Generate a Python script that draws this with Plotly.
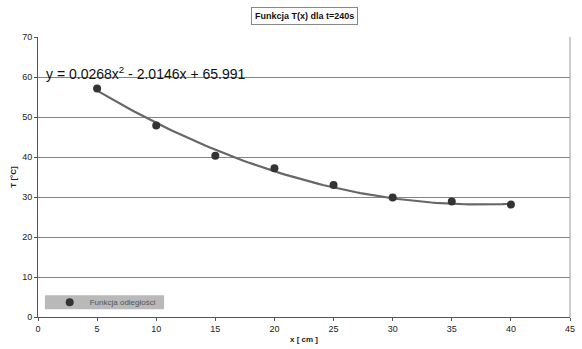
import numpy as np
import plotly.graph_objects as go

# Data
x_cm = [5, 10, 15, 20, 25, 30, 35, 40]
temp_c = [57.1, 47.9, 40.3, 37.2, 33.0, 29.9, 28.9, 28.1]

# Trendline coefficients shown on the chart (2nd order polynomial)
coef_a, coef_b, coef_c = 0.0268, -2.0146, 65.991

x_ticks = [0, 5, 10, 15, 20, 25, 30, 35, 40, 45]
y_ticks = [0, 10, 20, 30, 40, 50, 60, 70]

xs = np.linspace(min(x_cm), max(x_cm), 100)
ys = coef_a * xs**2 + coef_b * xs + coef_c

fig = go.Figure()
fig.add_trace(go.Scatter(
    x=xs, y=ys, mode="lines", showlegend=False,
    line=dict(color="#676767", width=2.2), hoverinfo="skip"))
fig.add_trace(go.Scatter(
    x=x_cm, y=temp_c, mode="markers", name="Funkcja odległości",
    marker=dict(color="#333333", size=8)))

fig.add_annotation(
    text="<b>Funkcja T(x) dla t=240s</b>", xref="paper", yref="paper",
    x=0.5, y=1.0, yshift=21, xanchor="center", yanchor="middle",
    showarrow=False, font=dict(family="Liberation Sans, Arial", size=9, color="#111"),
    bordercolor="#888", borderwidth=1, borderpad=3, bgcolor="white")

fig.add_annotation(
    text=f"y = {coef_a}x<sup>2</sup> - {abs(coef_b)}x + {coef_c}",
    xref="paper", yref="paper", x=0.012, y=0.87, xanchor="left", yanchor="middle",
    showarrow=False, font=dict(family="Liberation Sans, Arial", size=14, color="#111"))

# legend background box
fig.add_shape(type="rect", xref="paper", yref="paper",
              x0=0.013, x1=0.237, y0=0.028, y1=0.078,
              fillcolor="#b9b9b9", line=dict(width=0), layer="below")

fig.update_layout(
    width=582, height=349,
    margin=dict(l=38, r=7, t=37, b=30),
    paper_bgcolor="white", plot_bgcolor="white",
    font=dict(family="Liberation Sans, Arial", size=9, color="#222"),
    legend=dict(x=0.022, y=0.053, xanchor="left", yanchor="middle",
                bgcolor="rgba(0,0,0,0)", font=dict(size=8, color="#555"),
                itemwidth=30, borderwidth=0, tracegroupgap=0),
    xaxis=dict(range=[0, 45], tickvals=x_ticks, showgrid=False, zeroline=False,
               showline=True, linecolor="#555", linewidth=1, mirror=False,
               ticks="outside", ticklen=3, tickcolor="#555",
               title=dict(text="<b>x [ cm ]</b>", font=dict(size=8), standoff=3)),
    yaxis=dict(range=[0, 70], tickvals=y_ticks, showgrid=True, gridcolor="#858585",
               gridwidth=1, zeroline=False, showline=True, linecolor="#555",
               linewidth=1, ticks="outside", ticklen=3, tickcolor="#555",
               title=dict(text="<b>T [°C]</b>", font=dict(size=8), standoff=4)),
)
fig.add_shape(type="line", xref="paper", yref="paper", x0=1, x1=1, y0=0, y1=1,
              line=dict(color="#999", width=1))

fig.write_html("out.html")
